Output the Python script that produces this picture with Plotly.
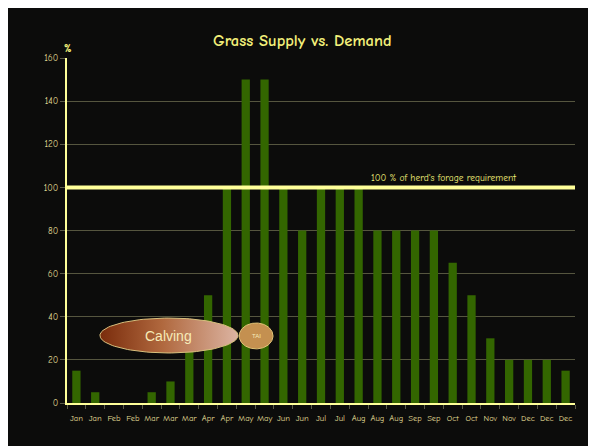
import numpy as np
import plotly.graph_objects as go

# ---- data ----
periods = ["Jan", "Jan", "Feb", "Feb", "Mar", "Mar", "Mar", "Apr", "Apr", "May", "May",
           "Jun", "Jun", "Jul", "Jul", "Aug", "Aug", "Aug", "Sep", "Sep", "Oct", "Oct",
           "Nov", "Nov", "Dec", "Dec", "Dec"]
supply_pct = [15, 5, 0, 0, 5, 10, 25, 50, 100, 150, 150,
              100, 80, 100, 100, 100, 80, 80, 80, 80, 65, 50,
              30, 20, 20, 20, 15]
requirement_pct = 100
y_ticks = [0, 20, 40, 60, 80, 100, 120, 140, 160]

FONT = "Comic Sans MS, Comic Neue, DejaVu Sans, sans-serif"
YEL = "#f3f07a"
LBL = "#e2dc96"
GRID = "#56563f"

xs = list(range(len(periods)))

fig = go.Figure()
fig.add_trace(go.Bar(
    x=xs, y=supply_pct,
    marker=dict(color="#336600", line=dict(width=0)),
    showlegend=False, hoverinfo="skip",
))

# requirement line
fig.add_trace(go.Scatter(
    x=[-0.5, len(periods) - 0.5], y=[requirement_pct, requirement_pct],
    mode="lines", line=dict(color="#ffff99", width=4),
    showlegend=False, hoverinfo="skip",
))

# Calving ellipse (gradient)
t = np.linspace(0, 2 * np.pi, 120)
cx, cy, rx, ry = 4.92, 31.3, 3.67, 8.1
fig.add_trace(go.Scatter(
    x=cx + rx * np.cos(t), y=cy + ry * np.sin(t),
    mode="lines", fill="toself",
    line=dict(color="#d8c07e", width=1),
    fillgradient=dict(type="horizontal",
                      colorscale=[[0, "#7a2c0c"], [0.45, "#b0683e"], [1, "#dcb4a2"]]),
    showlegend=False, hoverinfo="skip",
))
# TAI circle
tx, ty, trx, try_ = 9.55, 31.1, 0.90, 6.0
fig.add_trace(go.Scatter(
    x=tx + trx * np.cos(t), y=ty + try_ * np.sin(t),
    mode="lines", fill="toself", fillcolor="#c49050",
    line=dict(color="#e2c478", width=1),
    showlegend=False, hoverinfo="skip",
))

# page offset (body margin) compensation
OFF = 8
W, H = 596 - OFF, 446 - OFF
L, T = 67 - OFF, 58 - OFF
R = W - (575 - OFF)
B = H - (403 - OFF)
pw, ph = W - L - R, H - T - B
def px_x(p):  # p: page x in reference
    return (p - OFF - L) / pw
def px_y(p):
    return (H - B - (p - OFF)) / ph

fig.add_shape(type="rect", xref="paper", yref="paper",
              x0=px_x(OFF - 2), x1=px_x(W + OFF + 4), y0=px_y(OFF - 2), y1=px_y(H + OFF + 4),
              fillcolor="#0c0c0b", line=dict(width=0), layer="below")

fig.add_annotation(text="Calving", x=cx, y=cy, xref="x", yref="y", showarrow=False,
                   font=dict(family="Liberation Sans, Arial, sans-serif", size=14, color="#f6ebb8"))
fig.add_annotation(text="TAI", x=tx, y=ty, xref="x", yref="y", showarrow=False,
                   font=dict(family="Liberation Sans, Arial, sans-serif", size=6, color="#f6ebb8"))
fig.add_annotation(text="100 % of herd's forage requirement", x=px_x(443), y=px_y(177),
                   xref="paper", yref="paper", showarrow=False,
                   xanchor="center", yanchor="middle",
                   font=dict(family=FONT, size=9.5, color=YEL))
fig.add_annotation(text="<b>%</b>", x=px_x(68), y=px_y(48), xref="paper", yref="paper",
                   showarrow=False, xanchor="center", yanchor="middle",
                   font=dict(family=FONT, size=11, color=YEL))
fig.add_annotation(text="<b>Grass Supply vs. Demand</b>", x=px_x(302), y=px_y(40),
                   xref="paper", yref="paper", showarrow=False,
                   xanchor="center", yanchor="middle",
                   font=dict(family=FONT, size=16.5, color=YEL))

fig.update_layout(
    width=W, height=H,
    margin=dict(l=L, r=R, t=T, b=B, pad=0),
    paper_bgcolor="white", plot_bgcolor="rgba(0,0,0,0)",
    bargap=0.56,
    showlegend=False,
)
fig.update_xaxes(
    range=[-0.5, len(periods) - 0.5],
    tickmode="array", tickvals=xs, ticktext=periods, tickangle=0,
    ticks="outside", ticklen=6, tickcolor="rgba(0,0,0,0)",
    showgrid=False, zeroline=False,
    showline=True, linecolor="#ffff99", linewidth=2,
    tickfont=dict(family=FONT, size=8.5, color=LBL),
    minor=dict(tickmode="array", tickvals=[i - 0.5 for i in range(len(periods) + 1)],
               ticks="outside", ticklen=4, tickcolor="#5a5a48", showgrid=False),
)
fig.update_yaxes(
    range=[0, 160], tickmode="array", tickvals=y_ticks,
    showgrid=True, gridcolor=GRID, gridwidth=1, zeroline=False,
    showline=True, linecolor="#ffff99", linewidth=2,
    ticks="outside", ticklen=5, tickcolor="#5a5a48",
    tickfont=dict(family=FONT, size=9, color=LBL),
)

fig.write_html("out.html")
